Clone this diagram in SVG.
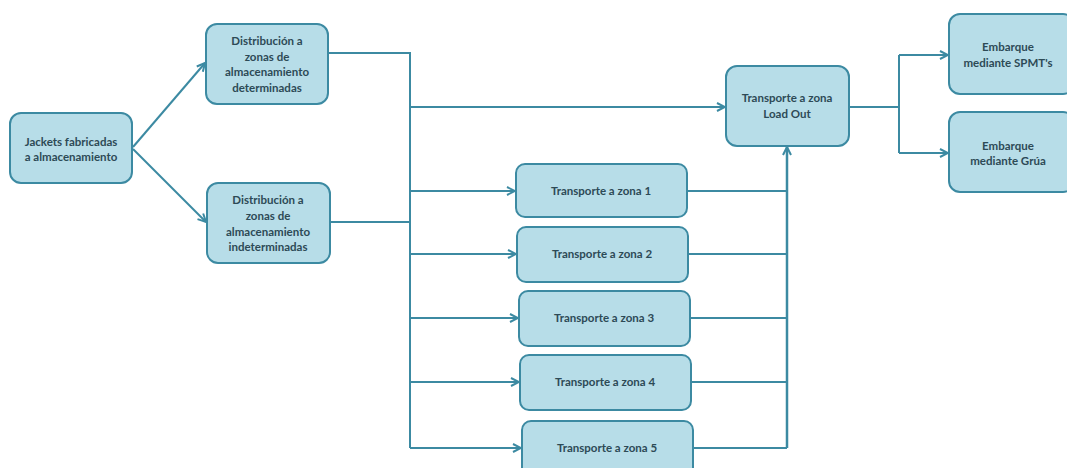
<svg xmlns="http://www.w3.org/2000/svg" width="1067" height="468" viewBox="0 0 1067 468">
<style>
.n rect{fill:#b7dde8;stroke:#3c8aa2;stroke-width:2}
.n text{font-family:Lato,"Open Sans",sans-serif;font-weight:700;font-size:11.5px;fill:#2d4a56;text-anchor:middle}
.c path{fill:none;stroke:#3c8aa2;stroke-width:2}
</style>
<defs>
<marker id="a" viewBox="0 0 10 10" refX="9" refY="5" markerWidth="10" markerHeight="10" markerUnits="userSpaceOnUse" orient="auto">
<path d="M1,1 L9,5 L1,9" fill="none" stroke="#3c8aa2" stroke-width="2"/>
</marker>
</defs>
<rect width="1067" height="468" fill="#fff"/>
<g class="c">
<path d="M133,147 L205,63" marker-end="url(#a)"/>
<path d="M133,149 L206,222" marker-end="url(#a)"/>
<path d="M328,53 H410 V448"/>
<path d="M330,222 H410"/>
<path d="M410,107 H725" marker-end="url(#a)"/>
<path d="M410,191 H515" marker-end="url(#a)"/>
<path d="M410,254 H516" marker-end="url(#a)"/>
<path d="M410,318 H518" marker-end="url(#a)"/>
<path d="M410,382 H519" marker-end="url(#a)"/>
<path d="M410,448 H521" marker-end="url(#a)"/>
<path d="M687,191 H787"/>
<path d="M688,254 H787"/>
<path d="M690,318 H787"/>
<path d="M691,382 H787"/>
<path d="M693,448 H787"/>
<path d="M787,448 V147" marker-end="url(#a)" style="stroke-width:2.5"/>
<path d="M849,107 H899"/>
<path d="M899,55 V153"/>
<path d="M899,55 H948" marker-end="url(#a)"/>
<path d="M899,153 H948" marker-end="url(#a)"/>
</g>
<g id="jackets" class="n"><rect x="10" y="113" width="122" height="70" rx="11"/><text x="71" y="146">Jackets fabricadas</text><text x="71" y="161">a almacenamiento</text></g>
<g id="dist-det" class="n"><rect x="206" y="24" width="122" height="80" rx="11"/><text x="267" y="45">Distribución a</text><text x="267" y="61">zonas de</text><text x="267" y="76">almacenamiento</text><text x="267" y="92">determinadas</text></g>
<g id="dist-indet" class="n"><rect x="207" y="183" width="123" height="80" rx="11"/><text x="268" y="204">Distribución a</text><text x="268" y="220">zonas de</text><text x="268" y="236">almacenamiento</text><text x="268" y="251">indeterminadas</text></g>
<g id="loadout" class="n"><rect x="726" y="66" width="123" height="80" rx="11"/><text x="787" y="102">Transporte a zona</text><text x="787" y="118">Load Out</text></g>
<g id="zona1" class="n"><rect x="516" y="164" width="171" height="53" rx="9"/><text x="601" y="195">Transporte a zona 1</text></g>
<g id="zona2" class="n"><rect x="517" y="227" width="171" height="55" rx="9"/><text x="602" y="258">Transporte a zona 2</text></g>
<g id="zona3" class="n"><rect x="519" y="291" width="171" height="55" rx="9"/><text x="604" y="322">Transporte a zona 3</text></g>
<g id="zona4" class="n"><rect x="520" y="355" width="171" height="55" rx="9"/><text x="605" y="386">Transporte a zona 4</text></g>
<g id="zona5" class="n"><rect x="522" y="421" width="171" height="55" rx="9"/><text x="607" y="452">Transporte a zona 5</text></g>
<g id="spmt" class="n"><rect x="949" y="14" width="125" height="80" rx="11"/><text x="1008" y="51">Embarque</text><text x="1008" y="67">mediante SPMT's</text></g>
<g id="grua" class="n"><rect x="949" y="112" width="125" height="80" rx="11"/><text x="1008" y="150">Embarque</text><text x="1008" y="165">mediante Grúa</text></g>
</svg>
